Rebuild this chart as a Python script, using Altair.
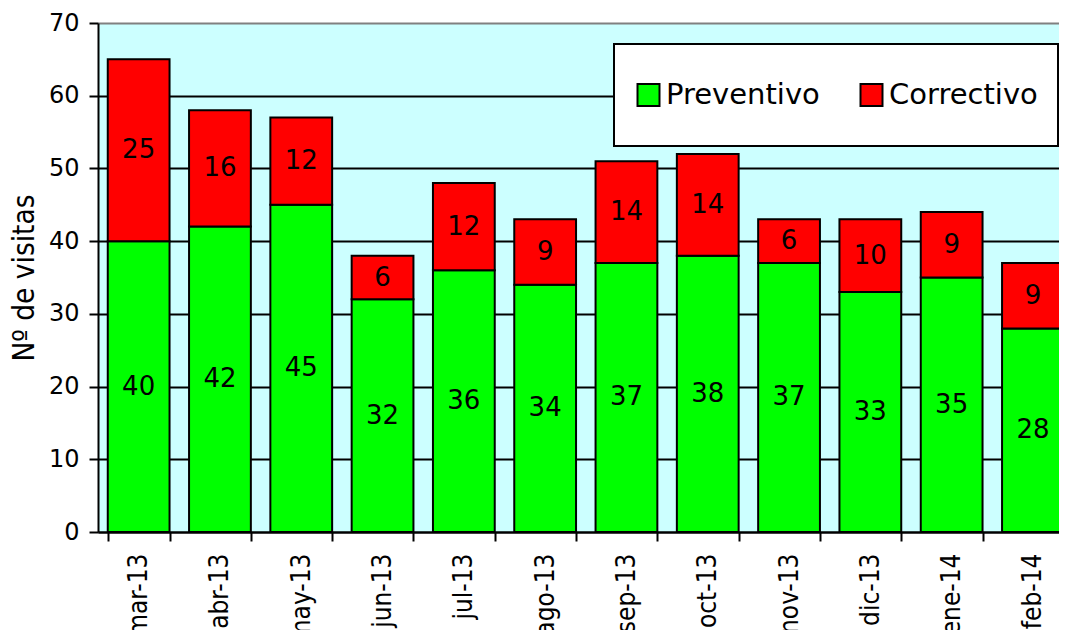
import altair as alt
import pandas as pd

months = ["mar-13", "abr-13", "may-13", "jun-13", "jul-13", "ago-13",
          "sep-13", "oct-13", "nov-13", "dic-13", "ene-14", "feb-14"]
preventivo = [40, 42, 45, 32, 36, 34, 37, 38, 37, 33, 35, 28]
correctivo = [25, 16, 12, 6, 12, 9, 14, 14, 6, 10, 9, 9]
series = ["Preventivo", "Correctivo"]
colors = ["#00FF00", "#FF0000"]
y_ticks = [0, 10, 20, 30, 40, 50, 60, 70]

rows = []
for i, m in enumerate(months):
    rows.append({"month": m, "tipo": series[0], "ord": 0, "value": preventivo[i]})
    rows.append({"month": m, "tipo": series[1], "ord": 1, "value": correctivo[i]})
df = pd.DataFrame(rows)

FONT = "DejaVu Sans"
CFONT = "DejaVu Sans Condensed, DejaVu Sans"

base = alt.Chart(df).transform_stack(
    stack="value", groupby=["month"], as_=["y0", "y1"],
    sort=[alt.SortField("ord", order="ascending")]
).transform_calculate(mid="(datum.y0 + datum.y1) / 2")

xenc = alt.X("month:N", sort=months, title=None,
             scale=alt.Scale(range=[0, 975.6], paddingInner=0.24, paddingOuter=0.12),
             axis=alt.Axis(labelAngle=-90, labelFontSize=26, labelFont=CFONT,
                           labelColor="black", labelPadding=12, tickBand="extent",
                           tickSize=9, tickWidth=2, tickColor="black",
                           domainColor="black", domainWidth=2, grid=False))

yscale = alt.Scale(domain=[0, 70], nice=False)

bars = base.mark_bar(stroke="black", strokeWidth=2).encode(
    x=xenc,
    y=alt.Y("y0:Q", scale=yscale, title="Nº de visitas",
            axis=alt.Axis(values=y_ticks, labelFontSize=24, labelFont=FONT,
                          labelColor="black", labelPadding=10,
                          tickSize=9, tickWidth=2, tickColor="black",
                          domainColor="black", domainWidth=2,
                          grid=True, gridWidth=2,
                          gridColor=alt.condition("datum.value === 70",
                                                  alt.value("#808080"),
                                                  alt.value("black")),
                          titleFontSize=29.5, titleFont=CFONT, titleFontWeight="normal",
                          titleColor="black", titlePadding=9)),
    y2="y1:Q",
    color=alt.Color("tipo:N", scale=alt.Scale(domain=series, range=colors),
                    legend=alt.Legend(title=None, orient="none", legendX=516, legendY=21,
                                      direction="horizontal", symbolType="square",
                                      symbolSize=484, symbolStrokeColor="black",
                                      symbolStrokeWidth=2, symbolOpacity=1,
                                      labelFontSize=29, labelFont=FONT, labelColor="black",
                                      labelOffset=3, columnPadding=37, padding=20,
                                      clipHeight=62,
                                      fillColor="white", strokeColor="black")),
)

labels = base.mark_text(fontSize=26, font=FONT, color="black", baseline="middle").encode(
    x=alt.X("month:N", sort=months),
    y=alt.Y("mid:Q", scale=yscale),
    text=alt.Text("value:Q"),
)

chart = alt.layer(bars, labels).properties(
    width=961, height=509,
    autosize=alt.AutoSizeParams(type="none"),
    padding={"left": 90, "top": 15, "right": 0, "bottom": 98},
    background="white",
).configure_view(fill="#CCFFFF", stroke="transparent").configure_legend(strokeWidth=2)

chart.save("out.html", embed_options={"renderer": "svg", "actions": False})
